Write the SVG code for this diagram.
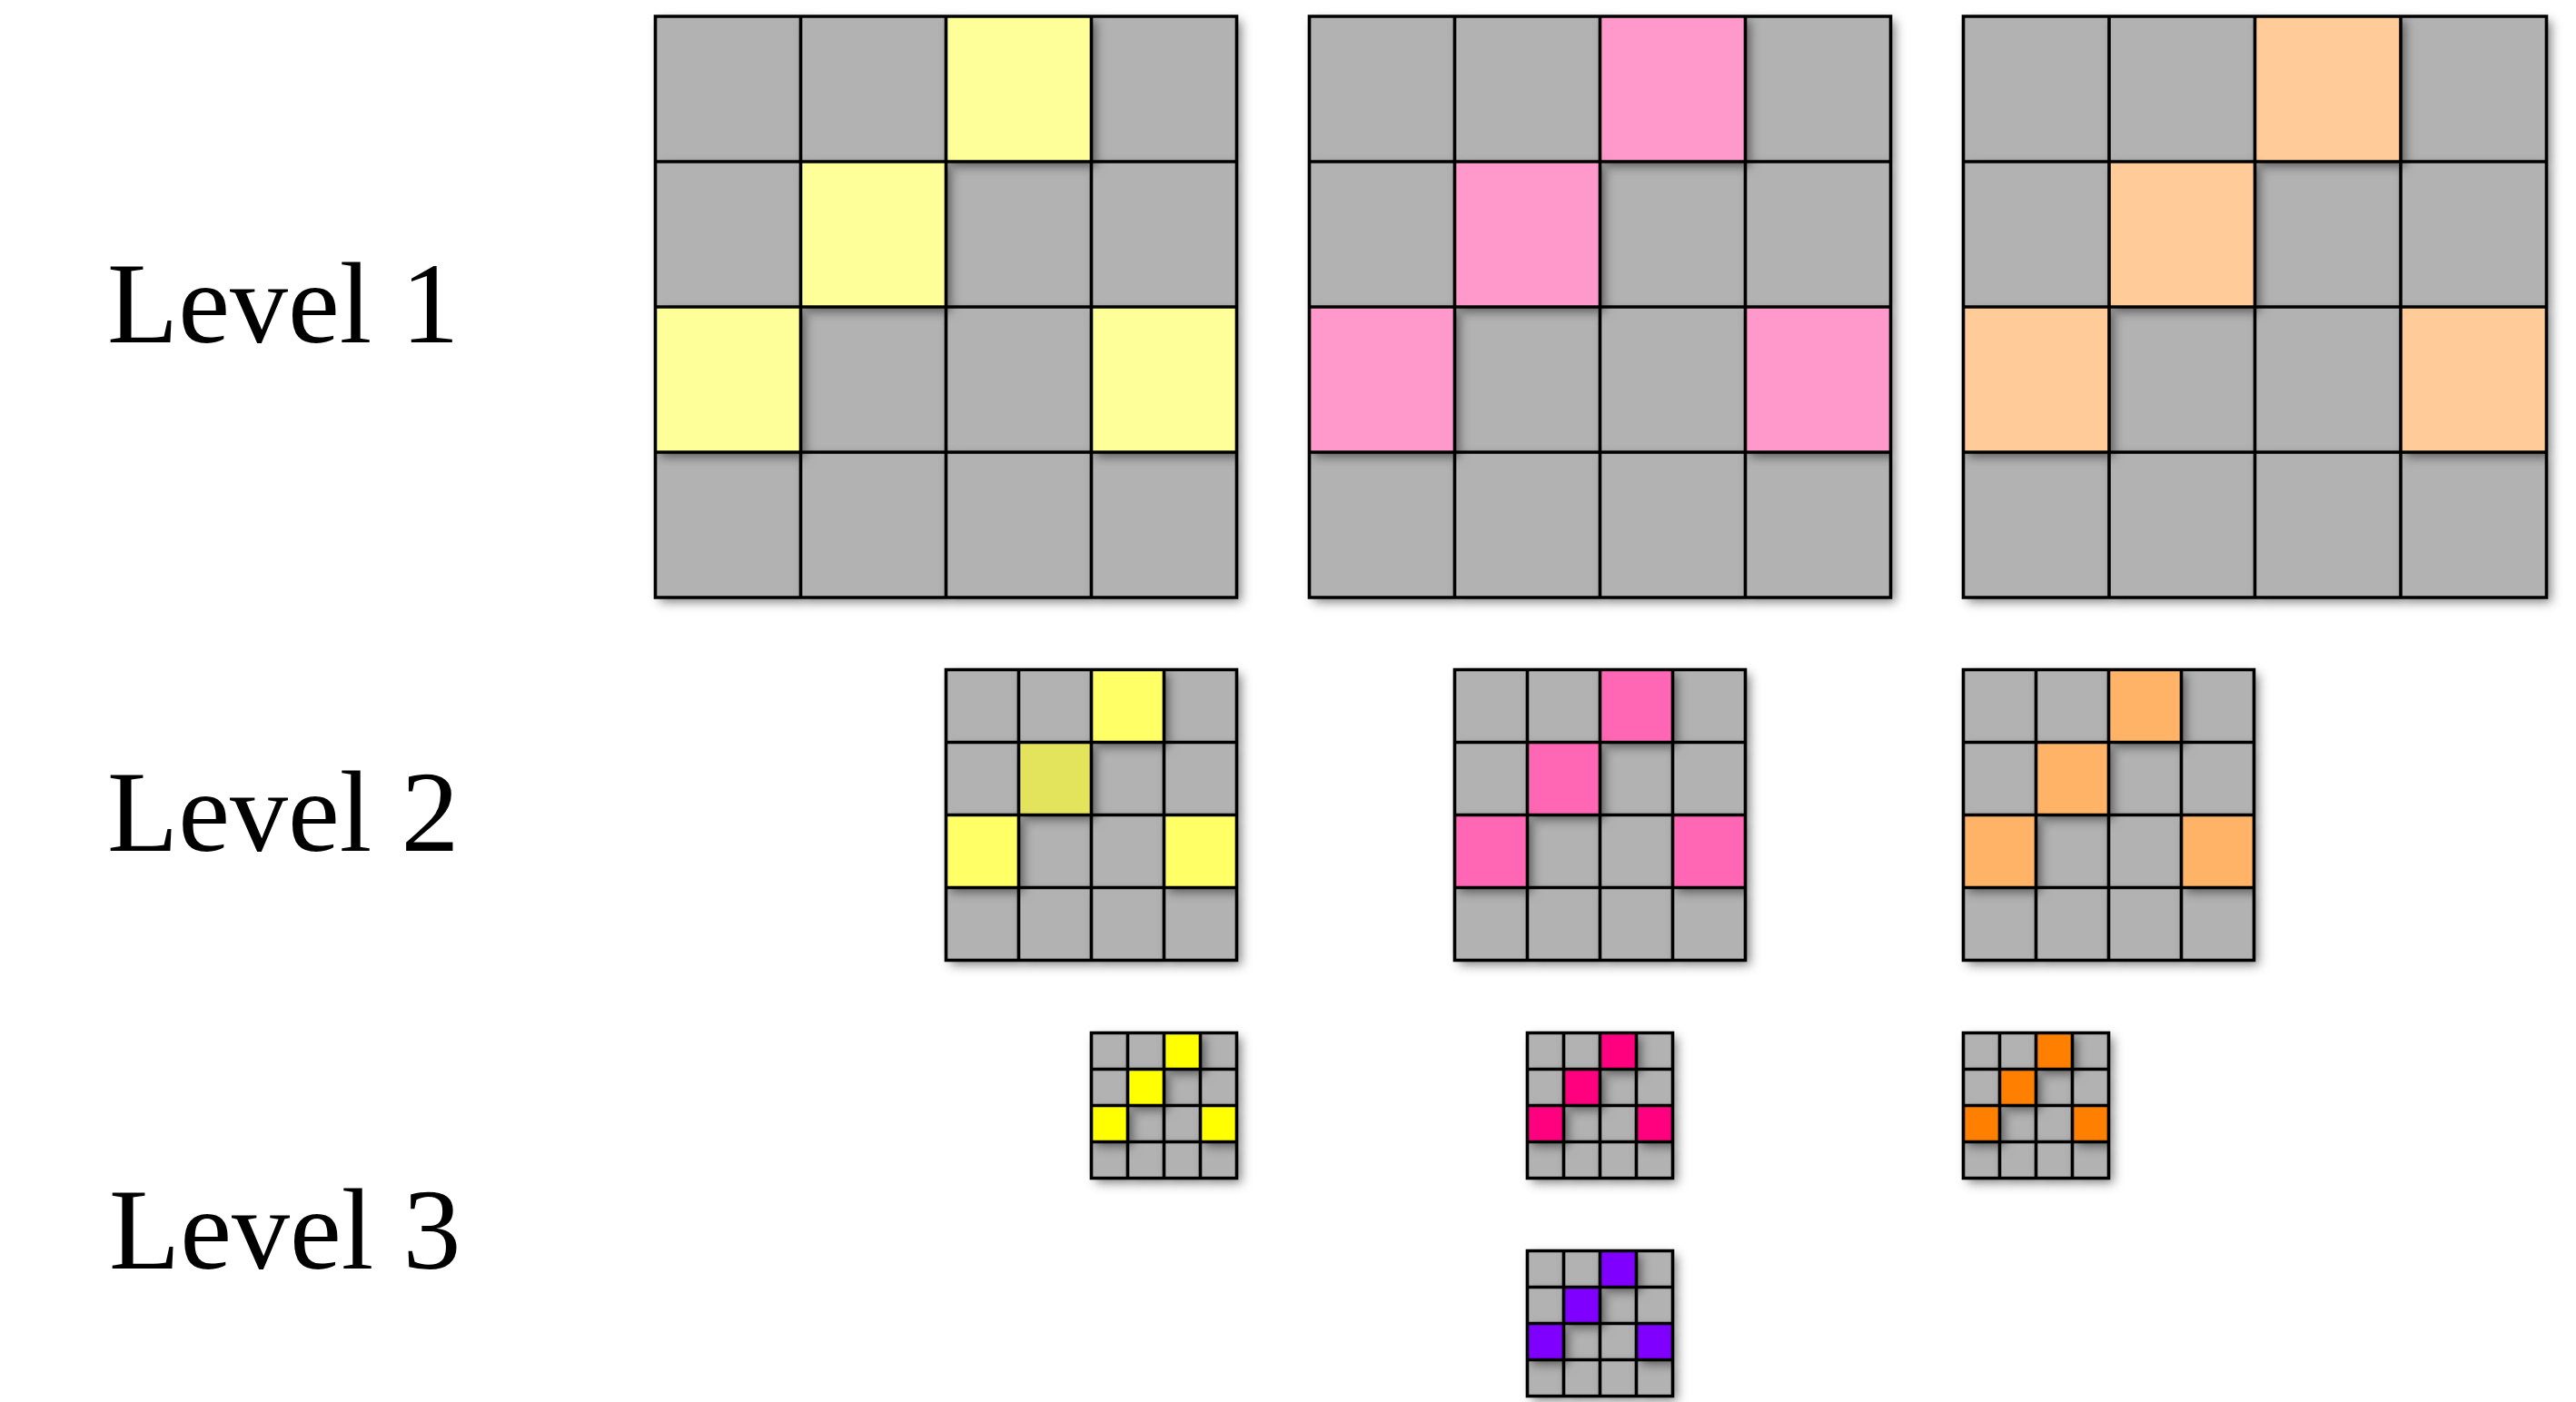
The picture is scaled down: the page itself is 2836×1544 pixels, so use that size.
<svg xmlns="http://www.w3.org/2000/svg" width="2836" height="1544" viewBox="0 0 2836 1544">
<style>
.lbl{font-family:"Liberation Serif","Times New Roman",serif;font-size:128px;fill:#000}
rect{filter:url(#sh)}
.g{fill:#b2b2b2}
.y1{fill:#ffff99}.p1{fill:#ff99cc}.o1{fill:#ffcc99}
.y2{fill:#ffff66}.y2d{fill:#e3e35c}.p2{fill:#ff66b3}.o2{fill:#ffb366}
.y3{fill:#ffff00}.p3{fill:#ff007f}.o3{fill:#ff8000}.v3{fill:#7f00ff}
.ln{fill:none;stroke:#000;stroke-width:3.6;stroke-linecap:square}
</style>
<defs>
<filter id="sh" x="-50%" y="-50%" width="200%" height="200%">
<feDropShadow dx="5" dy="5" stdDeviation="6" flood-color="#000" flood-opacity="0.5"/>
</filter>
</defs>
<rect width="2836" height="1544" fill="#fff" style="filter:none"/>
<g id="labels">
<text class="lbl" x="118" y="377">Level 1</text>
<text class="lbl" x="118" y="937">Level 2</text>
<text class="lbl" x="120" y="1397">Level 3</text>
</g>
<g id="level1-yellow">
<rect class="g" x="721.5" y="18" width="160" height="160"/>
<rect class="g" x="881.5" y="18" width="160" height="160"/>
<rect class="g" x="1201.5" y="18" width="160" height="160"/>
<rect class="g" x="721.5" y="178" width="160" height="160"/>
<rect class="g" x="1041.5" y="178" width="160" height="160"/>
<rect class="g" x="1201.5" y="178" width="160" height="160"/>
<rect class="g" x="881.5" y="338" width="160" height="160"/>
<rect class="g" x="1041.5" y="338" width="160" height="160"/>
<rect class="g" x="721.5" y="498" width="160" height="160"/>
<rect class="g" x="881.5" y="498" width="160" height="160"/>
<rect class="g" x="1041.5" y="498" width="160" height="160"/>
<rect class="g" x="1201.5" y="498" width="160" height="160"/>
<rect class="y1" x="1041.5" y="18" width="160" height="160"/>
<rect class="y1" x="881.5" y="178" width="160" height="160"/>
<rect class="y1" x="721.5" y="338" width="160" height="160"/>
<rect class="y1" x="1201.5" y="338" width="160" height="160"/>
<path class="ln" d="M721.5 18H1361.5V658H721.5Z M881.5 18V658 M1041.5 18V658 M1201.5 18V658 M721.5 178H1361.5 M721.5 338H1361.5 M721.5 498H1361.5"/>
</g>
<g id="level1-pink">
<rect class="g" x="1441.5" y="18" width="160" height="160"/>
<rect class="g" x="1601.5" y="18" width="160" height="160"/>
<rect class="g" x="1921.5" y="18" width="160" height="160"/>
<rect class="g" x="1441.5" y="178" width="160" height="160"/>
<rect class="g" x="1761.5" y="178" width="160" height="160"/>
<rect class="g" x="1921.5" y="178" width="160" height="160"/>
<rect class="g" x="1601.5" y="338" width="160" height="160"/>
<rect class="g" x="1761.5" y="338" width="160" height="160"/>
<rect class="g" x="1441.5" y="498" width="160" height="160"/>
<rect class="g" x="1601.5" y="498" width="160" height="160"/>
<rect class="g" x="1761.5" y="498" width="160" height="160"/>
<rect class="g" x="1921.5" y="498" width="160" height="160"/>
<rect class="p1" x="1761.5" y="18" width="160" height="160"/>
<rect class="p1" x="1601.5" y="178" width="160" height="160"/>
<rect class="p1" x="1441.5" y="338" width="160" height="160"/>
<rect class="p1" x="1921.5" y="338" width="160" height="160"/>
<path class="ln" d="M1441.5 18H2081.5V658H1441.5Z M1601.5 18V658 M1761.5 18V658 M1921.5 18V658 M1441.5 178H2081.5 M1441.5 338H2081.5 M1441.5 498H2081.5"/>
</g>
<g id="level1-orange">
<rect class="g" x="2161.5" y="18" width="160.5" height="160"/>
<rect class="g" x="2322" y="18" width="160.5" height="160"/>
<rect class="g" x="2643" y="18" width="160.5" height="160"/>
<rect class="g" x="2161.5" y="178" width="160.5" height="160"/>
<rect class="g" x="2482.5" y="178" width="160.5" height="160"/>
<rect class="g" x="2643" y="178" width="160.5" height="160"/>
<rect class="g" x="2322" y="338" width="160.5" height="160"/>
<rect class="g" x="2482.5" y="338" width="160.5" height="160"/>
<rect class="g" x="2161.5" y="498" width="160.5" height="160"/>
<rect class="g" x="2322" y="498" width="160.5" height="160"/>
<rect class="g" x="2482.5" y="498" width="160.5" height="160"/>
<rect class="g" x="2643" y="498" width="160.5" height="160"/>
<rect class="o1" x="2482.5" y="18" width="160.5" height="160"/>
<rect class="o1" x="2322" y="178" width="160.5" height="160"/>
<rect class="o1" x="2161.5" y="338" width="160.5" height="160"/>
<rect class="o1" x="2643" y="338" width="160.5" height="160"/>
<path class="ln" d="M2161.5 18H2803.5V658H2161.5Z M2322 18V658 M2482.5 18V658 M2643 18V658 M2161.5 178H2803.5 M2161.5 338H2803.5 M2161.5 498H2803.5"/>
</g>
<g id="level2-yellow">
<rect class="g" x="1041.5" y="737.5" width="80" height="80"/>
<rect class="g" x="1121.5" y="737.5" width="80" height="80"/>
<rect class="g" x="1281.5" y="737.5" width="80" height="80"/>
<rect class="g" x="1041.5" y="817.5" width="80" height="80"/>
<rect class="g" x="1201.5" y="817.5" width="80" height="80"/>
<rect class="g" x="1281.5" y="817.5" width="80" height="80"/>
<rect class="g" x="1121.5" y="897.5" width="80" height="80"/>
<rect class="g" x="1201.5" y="897.5" width="80" height="80"/>
<rect class="g" x="1041.5" y="977.5" width="80" height="80"/>
<rect class="g" x="1121.5" y="977.5" width="80" height="80"/>
<rect class="g" x="1201.5" y="977.5" width="80" height="80"/>
<rect class="g" x="1281.5" y="977.5" width="80" height="80"/>
<rect class="y2" x="1201.5" y="737.5" width="80" height="80"/>
<rect class="y2d" x="1121.5" y="817.5" width="80" height="80"/>
<rect class="y2" x="1041.5" y="897.5" width="80" height="80"/>
<rect class="y2" x="1281.5" y="897.5" width="80" height="80"/>
<path class="ln" d="M1041.5 737.5H1361.5V1057.5H1041.5Z M1121.5 737.5V1057.5 M1201.5 737.5V1057.5 M1281.5 737.5V1057.5 M1041.5 817.5H1361.5 M1041.5 897.5H1361.5 M1041.5 977.5H1361.5"/>
</g>
<g id="level2-pink">
<rect class="g" x="1601.5" y="737.5" width="80" height="80"/>
<rect class="g" x="1681.5" y="737.5" width="80" height="80"/>
<rect class="g" x="1841.5" y="737.5" width="80" height="80"/>
<rect class="g" x="1601.5" y="817.5" width="80" height="80"/>
<rect class="g" x="1761.5" y="817.5" width="80" height="80"/>
<rect class="g" x="1841.5" y="817.5" width="80" height="80"/>
<rect class="g" x="1681.5" y="897.5" width="80" height="80"/>
<rect class="g" x="1761.5" y="897.5" width="80" height="80"/>
<rect class="g" x="1601.5" y="977.5" width="80" height="80"/>
<rect class="g" x="1681.5" y="977.5" width="80" height="80"/>
<rect class="g" x="1761.5" y="977.5" width="80" height="80"/>
<rect class="g" x="1841.5" y="977.5" width="80" height="80"/>
<rect class="p2" x="1761.5" y="737.5" width="80" height="80"/>
<rect class="p2" x="1681.5" y="817.5" width="80" height="80"/>
<rect class="p2" x="1601.5" y="897.5" width="80" height="80"/>
<rect class="p2" x="1841.5" y="897.5" width="80" height="80"/>
<path class="ln" d="M1601.5 737.5H1921.5V1057.5H1601.5Z M1681.5 737.5V1057.5 M1761.5 737.5V1057.5 M1841.5 737.5V1057.5 M1601.5 817.5H1921.5 M1601.5 897.5H1921.5 M1601.5 977.5H1921.5"/>
</g>
<g id="level2-orange">
<rect class="g" x="2161.5" y="737.5" width="80" height="80"/>
<rect class="g" x="2241.5" y="737.5" width="80" height="80"/>
<rect class="g" x="2401.5" y="737.5" width="80" height="80"/>
<rect class="g" x="2161.5" y="817.5" width="80" height="80"/>
<rect class="g" x="2321.5" y="817.5" width="80" height="80"/>
<rect class="g" x="2401.5" y="817.5" width="80" height="80"/>
<rect class="g" x="2241.5" y="897.5" width="80" height="80"/>
<rect class="g" x="2321.5" y="897.5" width="80" height="80"/>
<rect class="g" x="2161.5" y="977.5" width="80" height="80"/>
<rect class="g" x="2241.5" y="977.5" width="80" height="80"/>
<rect class="g" x="2321.5" y="977.5" width="80" height="80"/>
<rect class="g" x="2401.5" y="977.5" width="80" height="80"/>
<rect class="o2" x="2321.5" y="737.5" width="80" height="80"/>
<rect class="o2" x="2241.5" y="817.5" width="80" height="80"/>
<rect class="o2" x="2161.5" y="897.5" width="80" height="80"/>
<rect class="o2" x="2401.5" y="897.5" width="80" height="80"/>
<path class="ln" d="M2161.5 737.5H2481.5V1057.5H2161.5Z M2241.5 737.5V1057.5 M2321.5 737.5V1057.5 M2401.5 737.5V1057.5 M2161.5 817.5H2481.5 M2161.5 897.5H2481.5 M2161.5 977.5H2481.5"/>
</g>
<g id="level3-yellow">
<rect class="g" x="1201.5" y="1137.5" width="40" height="40"/>
<rect class="g" x="1241.5" y="1137.5" width="40" height="40"/>
<rect class="g" x="1321.5" y="1137.5" width="40" height="40"/>
<rect class="g" x="1201.5" y="1177.5" width="40" height="40"/>
<rect class="g" x="1281.5" y="1177.5" width="40" height="40"/>
<rect class="g" x="1321.5" y="1177.5" width="40" height="40"/>
<rect class="g" x="1241.5" y="1217.5" width="40" height="40"/>
<rect class="g" x="1281.5" y="1217.5" width="40" height="40"/>
<rect class="g" x="1201.5" y="1257.5" width="40" height="40"/>
<rect class="g" x="1241.5" y="1257.5" width="40" height="40"/>
<rect class="g" x="1281.5" y="1257.5" width="40" height="40"/>
<rect class="g" x="1321.5" y="1257.5" width="40" height="40"/>
<rect class="y3" x="1281.5" y="1137.5" width="40" height="40"/>
<rect class="y3" x="1241.5" y="1177.5" width="40" height="40"/>
<rect class="y3" x="1201.5" y="1217.5" width="40" height="40"/>
<rect class="y3" x="1321.5" y="1217.5" width="40" height="40"/>
<path class="ln" d="M1201.5 1137.5H1361.5V1297.5H1201.5Z M1241.5 1137.5V1297.5 M1281.5 1137.5V1297.5 M1321.5 1137.5V1297.5 M1201.5 1177.5H1361.5 M1201.5 1217.5H1361.5 M1201.5 1257.5H1361.5"/>
</g>
<g id="level3-pink">
<rect class="g" x="1681.5" y="1137.5" width="40" height="40"/>
<rect class="g" x="1721.5" y="1137.5" width="40" height="40"/>
<rect class="g" x="1801.5" y="1137.5" width="40" height="40"/>
<rect class="g" x="1681.5" y="1177.5" width="40" height="40"/>
<rect class="g" x="1761.5" y="1177.5" width="40" height="40"/>
<rect class="g" x="1801.5" y="1177.5" width="40" height="40"/>
<rect class="g" x="1721.5" y="1217.5" width="40" height="40"/>
<rect class="g" x="1761.5" y="1217.5" width="40" height="40"/>
<rect class="g" x="1681.5" y="1257.5" width="40" height="40"/>
<rect class="g" x="1721.5" y="1257.5" width="40" height="40"/>
<rect class="g" x="1761.5" y="1257.5" width="40" height="40"/>
<rect class="g" x="1801.5" y="1257.5" width="40" height="40"/>
<rect class="p3" x="1761.5" y="1137.5" width="40" height="40"/>
<rect class="p3" x="1721.5" y="1177.5" width="40" height="40"/>
<rect class="p3" x="1681.5" y="1217.5" width="40" height="40"/>
<rect class="p3" x="1801.5" y="1217.5" width="40" height="40"/>
<path class="ln" d="M1681.5 1137.5H1841.5V1297.5H1681.5Z M1721.5 1137.5V1297.5 M1761.5 1137.5V1297.5 M1801.5 1137.5V1297.5 M1681.5 1177.5H1841.5 M1681.5 1217.5H1841.5 M1681.5 1257.5H1841.5"/>
</g>
<g id="level3-orange">
<rect class="g" x="2161.5" y="1137.5" width="40" height="40"/>
<rect class="g" x="2201.5" y="1137.5" width="40" height="40"/>
<rect class="g" x="2281.5" y="1137.5" width="40" height="40"/>
<rect class="g" x="2161.5" y="1177.5" width="40" height="40"/>
<rect class="g" x="2241.5" y="1177.5" width="40" height="40"/>
<rect class="g" x="2281.5" y="1177.5" width="40" height="40"/>
<rect class="g" x="2201.5" y="1217.5" width="40" height="40"/>
<rect class="g" x="2241.5" y="1217.5" width="40" height="40"/>
<rect class="g" x="2161.5" y="1257.5" width="40" height="40"/>
<rect class="g" x="2201.5" y="1257.5" width="40" height="40"/>
<rect class="g" x="2241.5" y="1257.5" width="40" height="40"/>
<rect class="g" x="2281.5" y="1257.5" width="40" height="40"/>
<rect class="o3" x="2241.5" y="1137.5" width="40" height="40"/>
<rect class="o3" x="2201.5" y="1177.5" width="40" height="40"/>
<rect class="o3" x="2161.5" y="1217.5" width="40" height="40"/>
<rect class="o3" x="2281.5" y="1217.5" width="40" height="40"/>
<path class="ln" d="M2161.5 1137.5H2321.5V1297.5H2161.5Z M2201.5 1137.5V1297.5 M2241.5 1137.5V1297.5 M2281.5 1137.5V1297.5 M2161.5 1177.5H2321.5 M2161.5 1217.5H2321.5 M2161.5 1257.5H2321.5"/>
</g>
<g id="level3-purple">
<rect class="g" x="1681.5" y="1377.5" width="40" height="40"/>
<rect class="g" x="1721.5" y="1377.5" width="40" height="40"/>
<rect class="g" x="1801.5" y="1377.5" width="40" height="40"/>
<rect class="g" x="1681.5" y="1417.5" width="40" height="40"/>
<rect class="g" x="1761.5" y="1417.5" width="40" height="40"/>
<rect class="g" x="1801.5" y="1417.5" width="40" height="40"/>
<rect class="g" x="1721.5" y="1457.5" width="40" height="40"/>
<rect class="g" x="1761.5" y="1457.5" width="40" height="40"/>
<rect class="g" x="1681.5" y="1497.5" width="40" height="40"/>
<rect class="g" x="1721.5" y="1497.5" width="40" height="40"/>
<rect class="g" x="1761.5" y="1497.5" width="40" height="40"/>
<rect class="g" x="1801.5" y="1497.5" width="40" height="40"/>
<rect class="v3" x="1761.5" y="1377.5" width="40" height="40"/>
<rect class="v3" x="1721.5" y="1417.5" width="40" height="40"/>
<rect class="v3" x="1681.5" y="1457.5" width="40" height="40"/>
<rect class="v3" x="1801.5" y="1457.5" width="40" height="40"/>
<path class="ln" d="M1681.5 1377.5H1841.5V1537.5H1681.5Z M1721.5 1377.5V1537.5 M1761.5 1377.5V1537.5 M1801.5 1377.5V1537.5 M1681.5 1417.5H1841.5 M1681.5 1457.5H1841.5 M1681.5 1497.5H1841.5"/>
</g>
<g id="connectors"></g>
</svg>
